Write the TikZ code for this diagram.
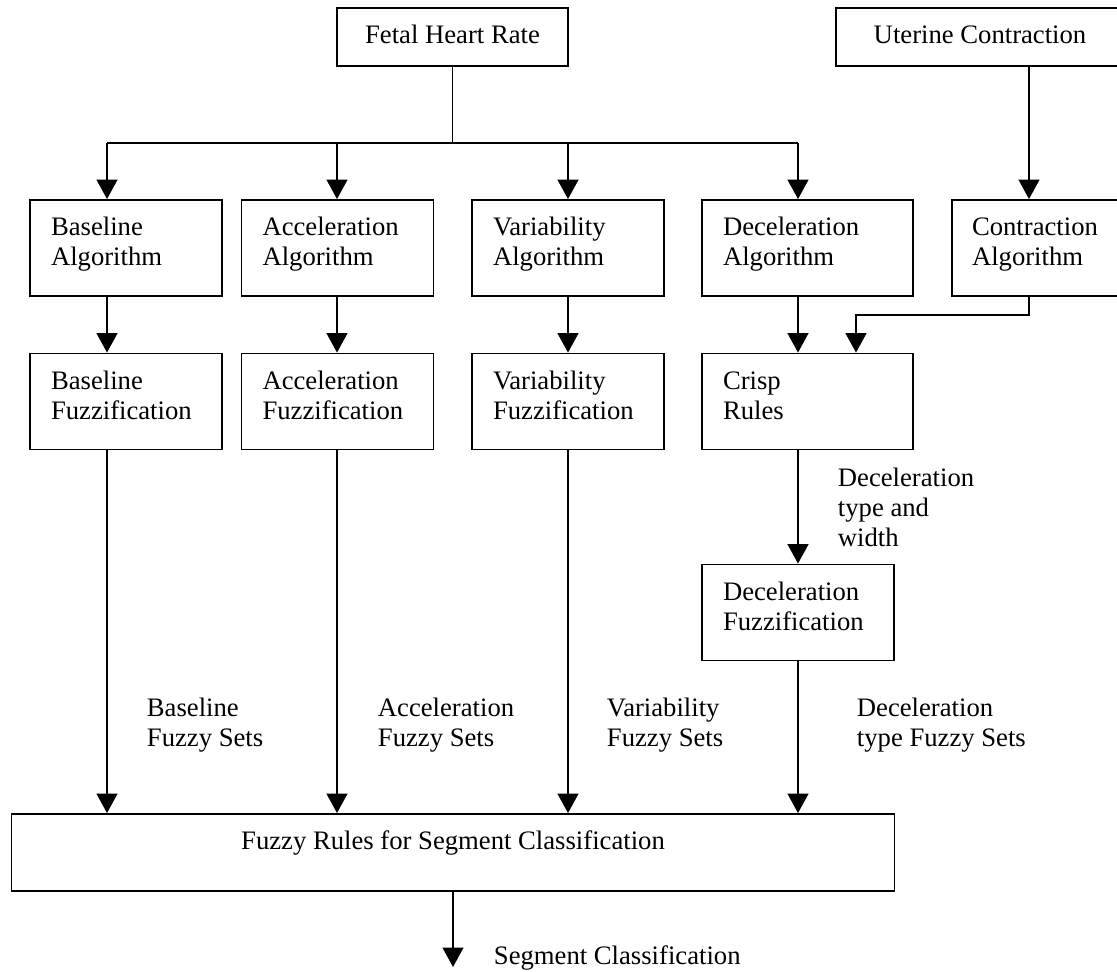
\documentclass[tikz,border=0pt]{standalone}
\usepackage{fontspec}
\setmainfont{Liberation Serif}
\usetikzlibrary{arrows.meta}

\begin{document}
\begin{tikzpicture}[x=0.75pt, y=-0.75pt, line width=1.4pt,
	every node/.style={font=\fontsize{20pt}{22.5pt}\selectfont}]
	\tikzset{box/.style={draw, align=left, inner xsep=15.75pt, inner ysep=0pt,
			text width=112.5pt, minimum height=72pt,
			execute at begin node={\rule{0pt}{13.5pt}},
			execute at end node={\rule[-9.6pt]{0pt}{9.6pt}}},
		wide/.style={text width=126.75pt},
		topbox/.style={draw, minimum height=43.5pt, text height=13.5pt, text depth=4.5pt},
		lbl/.style={anchor=north west, inner sep=0pt, align=left,
			execute at begin node={\rule{0pt}{13.5pt}}},
		arr/.style={-{Triangle[length=14.5pt, width=15.5pt]}}}
	\useasboundingbox (0,0) rectangle (1117,971);
	\clip (0,0) rectangle (1117,971);
	\node[topbox, minimum width=173.25pt] (fhr) at (452.5,37) {Fetal Heart Rate};
	\node[topbox, minimum width=216pt]    (uc)  at (980,37)   {Uterine Contraction};
	\node[box]       (balg)  at (126,248)   {Baseline\\Algorithm};
	\node[box]       (aalg)  at (337.5,248) {Acceleration\\Algorithm};
	\node[box]       (valg)  at (568,248)   {Variability\\Algorithm};
	\node[box, wide] (dalg)  at (807.5,248) {Deceleration\\Algorithm};
	\node[box, text width=100.5pt, inner xsep=15pt] (calg) at (1039,248) {Contraction\\Algorithm};
	\node[box]       (bfuz)  at (126,401.5)   {Baseline\\Fuzzification};
	\node[box]       (afuz)  at (337.5,401.5) {Acceleration\\Fuzzification};
	\node[box]       (vfuz)  at (568,401.5)   {Variability\\Fuzzification};
	\node[box, wide] (crisp) at (807.5,401.5) {Crisp\\Rules};
	\node[box]       (dfuz)  at (798,612.5)   {Deceleration\\Fuzzification};
	\node[draw, minimum width=662.25pt, minimum height=57.75pt, text height=13.5pt,
		text depth=17.3pt] (fr) at (453,852.5) {Fuzzy Rules for Segment Classification};
	\node[lbl] (declab) at (837,466.6) {Deceleration\\type and\\width};
	\node[lbl] (bset)   at (146,696.6) {Baseline\\Fuzzy Sets};
	\node[lbl] (aset)   at (377,696.6) {Acceleration\\Fuzzy Sets};
	\node[lbl] (vset)   at (606,696.6) {Variability\\Fuzzy Sets};
	\node[lbl] (dset)   at (856,696.6) {Deceleration\\type Fuzzy Sets};
	\node[anchor=base west, inner sep=0pt] (seglab) at (493,964.6) {Segment Classification};
	\coordinate (bus)   at (0,143);
	\coordinate (elbow) at (0,315);
	\coordinate (col1)  at (107,0);
	\coordinate (col2)  at (337,0);
	\coordinate (col3)  at (568,0);
	\coordinate (col4)  at (798,0);
	\coordinate (col5)  at (1029,0);
	\coordinate (col6)  at (856,0);
	\coordinate (out)   at (453,967);
	\draw (fhr.south) -- (fhr.south |- bus);
	\draw (col1 |- bus) -- (col4 |- bus);
	\foreach \c/\to in {col1/balg, col2/aalg, col3/valg, col4/dalg}
		\draw[arr] (\c |- bus) -- (\c |- \to.north);
	\foreach \c/\from/\to in {
		col1/balg/bfuz, col2/aalg/afuz, col3/valg/vfuz, col4/dalg/crisp,
		col4/crisp/dfuz,
		col1/bfuz/fr, col2/afuz/fr, col3/vfuz/fr, col4/dfuz/fr}
		\draw[arr] (\c |- \from.south) -- (\c |- \to.north);
	\draw[arr] (col5 |- uc.south) -- (col5 |- calg.north);
	\draw[arr] (col5 |- calg.south) -- (col5 |- elbow) -| (col6 |- crisp.north);
	\draw[arr] (fr.south) -- (out);
\end{tikzpicture}
\end{document}
